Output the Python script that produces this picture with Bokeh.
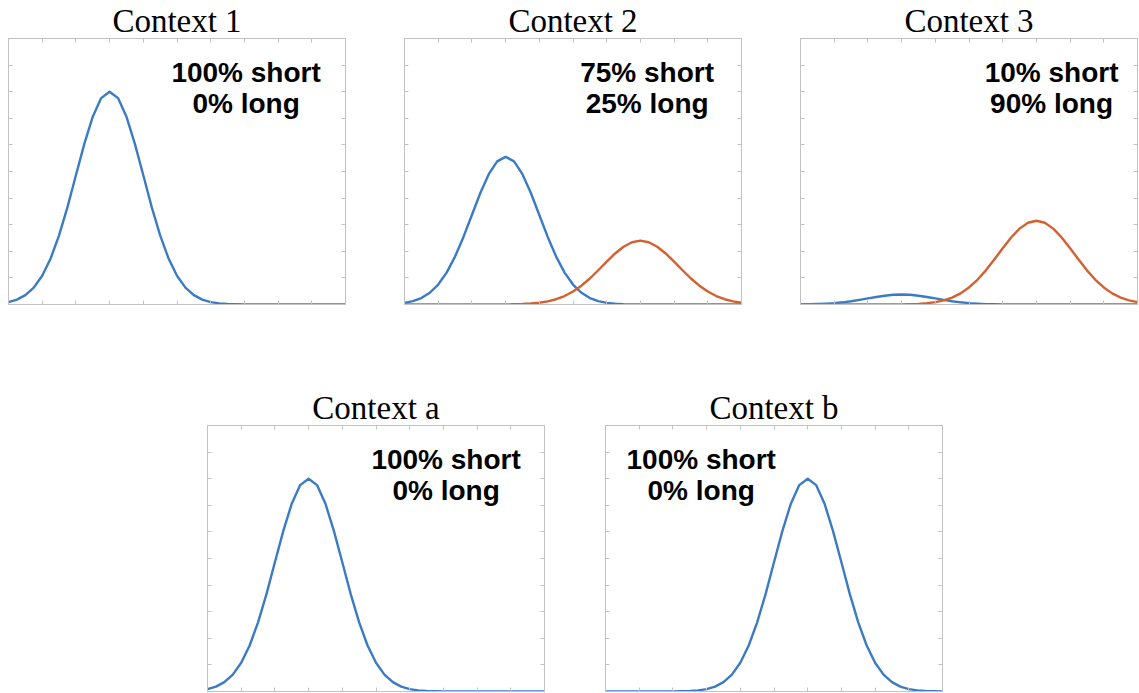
from bokeh.plotting import figure
from bokeh.layouts import column, row
from bokeh.models import Spacer, LinearAxis, FixedTicker, CustomJSTickFormatter
from bokeh.core.properties import value
from bokeh.embed import file_html
from bokeh.resources import INLINE

# ---------------- data ----------------
x_vals = [0.0, 0.25, 0.5, 0.75, 1.0, 1.25, 1.5, 1.75, 2.0, 2.25, 2.5, 2.75,
          3.0, 3.25, 3.5, 3.75, 4.0, 4.25, 4.5, 4.75, 5.0, 5.25, 5.5, 5.75,
          6.0, 6.25, 6.5, 6.75, 7.0, 7.25, 7.5, 7.75, 8.0, 8.25, 8.5, 8.75,
          9.0, 9.25, 9.5, 9.75, 10.0]

short_ctx1 = [0.0044, 0.0091, 0.0176, 0.0318, 0.0541, 0.0865, 0.130, 0.183, 0.243, 0.302,
              0.353, 0.388, 0.400, 0.388, 0.353, 0.302, 0.243, 0.183, 0.130, 0.0865,
              0.0541, 0.0318, 0.0176, 0.0091, 0.0044, 0.0020, 0.0009, 0.0004, 0.0001,
              0, 0, 0, 0, 0, 0, 0, 0, 0, 0, 0, 0]

short_ctx2 = [0.0031, 0.0063, 0.0122, 0.0221, 0.0375, 0.0600, 0.0901, 0.1270, 0.1683, 0.2095,
              0.2449, 0.2690, 0.2775, 0.2690, 0.2449, 0.2095, 0.1683, 0.1270, 0.0901, 0.0600,
              0.0375, 0.0221, 0.0122, 0.0063, 0.0031, 0.0014, 0.0006, 0.0002, 0.0001,
              0, 0, 0, 0, 0, 0, 0, 0, 0, 0, 0, 0]
long_ctx2 = [0, 0, 0, 0, 0, 0, 0, 0, 0, 0, 0,
             0.0001, 0.0002, 0.0004, 0.0009, 0.0018, 0.0033, 0.0059, 0.0099, 0.0159, 0.0244,
             0.0354, 0.0489, 0.0644, 0.0806, 0.0959, 0.1086, 0.1170, 0.1200, 0.1170, 0.1086,
             0.0959, 0.0806, 0.0644, 0.0489, 0.0354, 0.0244, 0.0159, 0.0099, 0.0059, 0.0033]

short_ctx3 = [0.0002, 0.0004, 0.0008, 0.0015, 0.0025, 0.0041, 0.0061, 0.0086, 0.0114, 0.0142,
              0.0165, 0.0182, 0.0188, 0.0182, 0.0165, 0.0142, 0.0114, 0.0086, 0.0061, 0.0041,
              0.0025, 0.0015, 0.0008, 0.0004, 0.0002, 0.0001, 0, 0, 0,
              0, 0, 0, 0, 0, 0, 0, 0, 0, 0, 0, 0]
long_ctx3 = [0, 0, 0, 0, 0, 0, 0, 0, 0, 0, 0,
             0.0001, 0.0003, 0.0006, 0.0012, 0.0023, 0.0044, 0.0077, 0.0130, 0.0209, 0.0320,
             0.0465, 0.0642, 0.0845, 0.1057, 0.1259, 0.1426, 0.1536, 0.1575, 0.1536, 0.1426,
             0.1259, 0.1057, 0.0845, 0.0642, 0.0465, 0.0320, 0.0209, 0.0130, 0.0077, 0.0044]

short_ctxa = [0.0044, 0.0091, 0.0176, 0.0318, 0.0541, 0.0865, 0.130, 0.183, 0.243, 0.302,
              0.353, 0.388, 0.400, 0.388, 0.353, 0.302, 0.243, 0.183, 0.130, 0.0865,
              0.0541, 0.0318, 0.0176, 0.0091, 0.0044, 0.0020, 0.0009, 0.0004, 0.0001,
              0, 0, 0, 0, 0, 0, 0, 0, 0, 0, 0, 0]

short_ctxb = [0, 0, 0, 0, 0, 0, 0, 0,
              0.0001, 0.0004, 0.0009, 0.0020, 0.0044, 0.0091, 0.0176, 0.0318, 0.0541, 0.0865,
              0.130, 0.183, 0.243, 0.302, 0.353, 0.388, 0.400, 0.388, 0.353, 0.302, 0.243,
              0.183, 0.130, 0.0865, 0.0541, 0.0318, 0.0176, 0.0091, 0.0044, 0.0020, 0.0009,
              0.0004, 0.0001]

titles = ["Context 1", "Context 2", "Context 3", "Context a", "Context b"]
short_labels = ["100% short", "75% short", "10% short", "100% short", "100% short"]
long_labels = ["0% long", "25% long", "90% long", "0% long", "0% long"]

x_ticks = [0, 1, 2, 3, 4, 5, 6, 7, 8, 9, 10]
y_ticks = [0, 0.05, 0.1, 0.15, 0.2, 0.25, 0.3, 0.35, 0.4, 0.45, 0.5]

# ---------------- styling ----------------
BLUE = "#3b7bc6"
ORANGE = "#d4602f"
FRAME = "#c2c2c2"
FW, FH = 337, 266


def style_axis(ax, ticks):
    ax.ticker = FixedTicker(ticks=ticks)
    ax.formatter = CustomJSTickFormatter(code="return ''")
    ax.major_tick_in = 4
    ax.major_tick_out = 0
    ax.minor_tick_line_color = None
    ax.major_label_standoff = 0
    ax.axis_line_color = FRAME
    ax.major_tick_line_color = FRAME
    ax.axis_label = None


def make_panel(title, shorts, longs, label_x, short_lab, long_lab):
    p = figure(frame_width=FW, frame_height=FH, x_range=(0, 10), y_range=(0, 0.5),
               output_backend="svg", toolbar_location=None,
               min_border_left=1, min_border_right=1, min_border_bottom=1, min_border_top=0)
    p.title.text = title
    p.title.text_font = "Liberation Serif"
    p.title.text_font_size = "33px"
    p.title.text_font_style = "normal"
    p.title.text_color = "#000000"
    p.title.align = "center"
    p.title.standoff = 0
    p.add_layout(LinearAxis(), "above")
    p.add_layout(LinearAxis(), "right")
    for ax in p.xaxis:
        style_axis(ax, x_ticks)
    for ax in p.yaxis:
        style_axis(ax, y_ticks)
    p.xgrid.visible = False
    p.ygrid.visible = False
    p.outline_line_color = FRAME
    p.background_fill_color = "white"
    p.border_fill_color = "white"
    p.line(x_vals, shorts, line_color=BLUE, line_width=2.4, line_join="round")
    if longs is not None:
        p.line(x_vals, longs, line_color=ORANGE, line_width=2.4, line_join="round")
    p.text(x=[label_x, label_x], y=[0.437, 0.377], text=[short_lab, long_lab],
           text_font=value("Liberation Sans"), text_font_style="bold",
           text_font_size="28px", text_align="center", text_baseline="alphabetic",
           text_color="#000000")
    return p


f1 = make_panel(titles[0], short_ctx1, None, 7.05, short_labels[0], long_labels[0])
f2 = make_panel(titles[1], short_ctx2, long_ctx2, 7.2, short_labels[1], long_labels[1])
f3 = make_panel(titles[2], short_ctx3, long_ctx3, 7.45, short_labels[2], long_labels[2])
fa = make_panel(titles[3], short_ctxa, None, 7.08, short_labels[3], long_labels[3])
fb = make_panel(titles[4], short_ctxb, None, 2.84, short_labels[4], long_labels[4])

top = row(Spacer(width=7), f1, Spacer(width=57), f2, Spacer(width=57), f3)
bottom = row(Spacer(width=206), fa, Spacer(width=59), fb)
layout = column(top, Spacer(height=82), bottom)

open("out.html", "w").write(file_html(layout, INLINE))
